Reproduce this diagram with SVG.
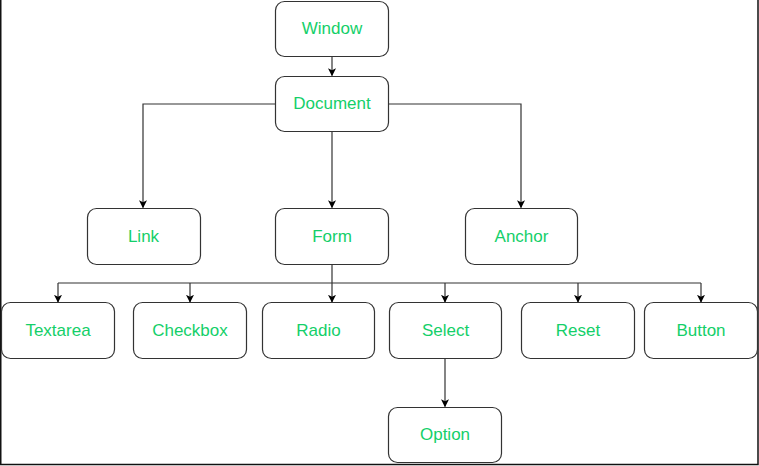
<svg xmlns="http://www.w3.org/2000/svg" width="759" height="466" viewBox="0 0 759 466">
<defs>
<marker id="ah" viewBox="0 0 10 10" refX="9" refY="5" markerWidth="8" markerHeight="8" markerUnits="userSpaceOnUse" orient="auto">
<path d="M0,0 L10,5 L0,10 L2.5,5 Z" fill="#000"/>
</marker>
<style>
.box{fill:#fff;stroke:#333;stroke-width:1.2}
.lbl{font-family:"Liberation Sans",Arial,sans-serif;font-size:17px;fill:#14cf69;text-anchor:middle;dominant-baseline:central}
.c{fill:none;stroke:#333;stroke-width:1.2}
.ca{fill:none;stroke:#333;stroke-width:1.2;marker-end:url(#ah)}
</style>
</defs>
<rect width="759" height="466" fill="#fff"/>
<path d="M0.75,0 V464.5 H758 V0" fill="none" stroke="#111" stroke-width="1.5"/>
<g id="connectors">
<path class="ca" d="M332,56 V75.5"/>
<path class="ca" d="M275,104 H143 V207.5"/>
<path class="ca" d="M389,104 H521 V207.5"/>
<path class="ca" d="M332,132 V207.5"/>
<path class="c" d="M332,265 V283"/>
<path class="c" d="M58,283 H701"/>
<path class="ca" d="M58,283 V302"/>
<path class="ca" d="M190,283 V302"/>
<path class="ca" d="M332,283 V302"/>
<path class="ca" d="M445,283 V302"/>
<path class="ca" d="M578,283 V302"/>
<path class="ca" d="M701,283 V302"/>
<path class="ca" d="M445,358 V406.5"/>
</g>
<g id="window"><rect class="box" x="275.5" y="1.5" width="113" height="55" rx="9"/><text class="lbl" x="332" y="28.5">Window</text></g>
<g id="document"><rect class="box" x="275.5" y="76.5" width="113" height="55" rx="9"/><text class="lbl" x="332" y="103.5">Document</text></g>
<g id="link"><rect class="box" x="87.5" y="208.5" width="113" height="56" rx="9"/><text class="lbl" x="143.5" y="236.5">Link</text></g>
<g id="form"><rect class="box" x="275.5" y="208.5" width="113" height="56" rx="9"/><text class="lbl" x="332" y="236.5">Form</text></g>
<g id="anchor"><rect class="box" x="465.5" y="208.5" width="112" height="56" rx="9"/><text class="lbl" x="521.5" y="236.5">Anchor</text></g>
<g id="textarea"><rect class="box" x="1.5" y="302.5" width="113" height="56" rx="9"/><text class="lbl" x="58" y="330.5">Textarea</text></g>
<g id="checkbox"><rect class="box" x="133.5" y="302.5" width="113" height="56" rx="9"/><text class="lbl" x="190" y="330.5">Checkbox</text></g>
<g id="radio"><rect class="box" x="262.5" y="302.5" width="112" height="56" rx="9"/><text class="lbl" x="318.5" y="330.5">Radio</text></g>
<g id="select"><rect class="box" x="389.5" y="302.5" width="112" height="56" rx="9"/><text class="lbl" x="445.5" y="330.5">Select</text></g>
<g id="reset"><rect class="box" x="521.5" y="302.5" width="113" height="56" rx="9"/><text class="lbl" x="578" y="330.5">Reset</text></g>
<g id="button"><rect class="box" x="644.5" y="302.5" width="113" height="56" rx="9"/><text class="lbl" x="701" y="330.5">Button</text></g>
<g id="option"><rect class="box" x="388.5" y="407.5" width="113" height="55" rx="9"/><text class="lbl" x="445" y="434.5">Option</text></g>
</svg>
